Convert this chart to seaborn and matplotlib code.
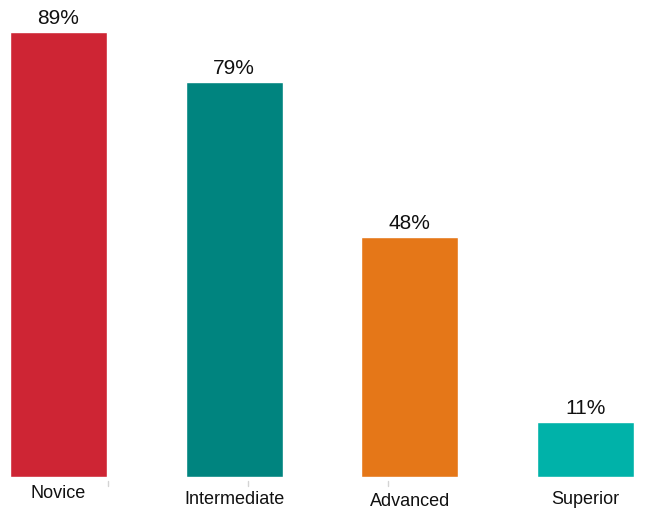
import matplotlib
matplotlib.use("Agg")
import matplotlib.pyplot as plt
import seaborn as sns
import pandas as pd
from matplotlib.transforms import ScaledTranslation, blended_transform_factory

categories = ["Novice", "Intermediate", "Advanced", "Superior"]
values = [89, 79, 48, 11]
value_labels = ["89%", "79%", "48%", "11%"]
colors = ["#CE2534", "#00847F", "#E57718", "#00B2A9"]
divider_positions = [0.28, 1.08, 1.875]

sns.set_theme(style="white")
plt.rcParams["font.family"] = ["Liberation Sans", "DejaVu Sans"]

df = pd.DataFrame({"cat": categories, "val": values})

fig = plt.figure(figsize=(6.69, 5.11), dpi=100)
ax = fig.add_axes([0, 34 / 511, 1, 475 / 511])
sns.barplot(data=df, x="cat", y="val", hue="cat", palette=colors, dodge=False,
            legend=False, width=0.553, ax=ax, saturation=1)
ax.set_xlim(-0.333, 3.475)
ax.set_ylim(0, 95)
for c, lab in zip(ax.containers, value_labels):
    ax.bar_label(c, labels=[lab], padding=3, fontsize=15, color="#111111")
ax.set_xlabel("")
ax.set_ylabel("")
ax.set_yticks([])
for s in ax.spines.values():
    s.set_visible(False)
ax.tick_params(axis="x", length=0, labelsize=13, pad=6, colors="#111111")
trans = blended_transform_factory(ax.transData, ax.transAxes)
for xp in divider_positions:
    ax.plot([xp, xp], [-0.009, -0.019], transform=trans, color="#d4d4d4",
            lw=1, clip_on=False)
offsets = [0, -6, -8, -6]
for lab, dy in zip(ax.get_xticklabels(), offsets):
    lab.set_transform(lab.get_transform() + ScaledTranslation(0, dy / 100, fig.dpi_scale_trans))
fig.savefig("out.png", dpi=100)
